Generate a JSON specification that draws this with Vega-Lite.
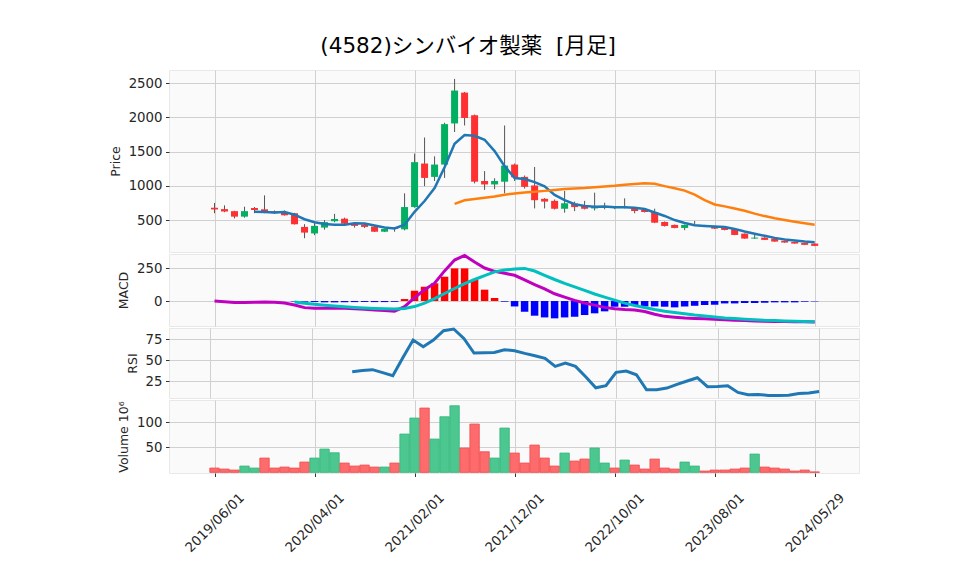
{
  "$schema": "https://vega.github.io/schema/vega-lite/v6.json",
  "background": "white",
  "padding": {"left": 108, "top": 36, "right": 5, "bottom": 5},
  "bounds": "flush",
  "title": {"text": "(4582)シンバイオ製薬\u00a0\u00a0[月足]", "font": "DejaVu Sans, Noto Sans CJK JP", "fontSize": 21.5, "fontWeight": "normal", "color": "#000000", "anchor": "middle", "offset": 12, "dx": -16},
  "datasets": {
    "d": [
      {"i":0,"o":680,"h":750,"l":600,"c":655,"ma5":null,"ma25":null,"macd":0,"sig":null,"hist":null,"rsi":null,"vol":8.7,"vd":"down"},
      {"i":1,"o":660,"h":715,"l":615,"c":625,"ma5":null,"ma25":null,"macd":-5,"sig":null,"hist":null,"rsi":null,"vol":6.7,"vd":"down"},
      {"i":2,"o":630,"h":635,"l":525,"c":550,"ma5":null,"ma25":null,"macd":-12,"sig":null,"hist":null,"rsi":null,"vol":4.7,"vd":"down"},
      {"i":3,"o":550,"h":695,"l":535,"c":630,"ma5":null,"ma25":null,"macd":-12,"sig":null,"hist":null,"rsi":null,"vol":12.7,"vd":"up"},
      {"i":4,"o":676,"h":690,"l":600,"c":647,"ma5":621,"ma25":null,"macd":-10,"sig":null,"hist":null,"rsi":null,"vol":8.7,"vd":"up"},
      {"i":5,"o":657,"h":860,"l":600,"c":632,"ma5":617,"ma25":null,"macd":-8,"sig":null,"hist":null,"rsi":null,"vol":28.7,"vd":"down"},
      {"i":6,"o":628,"h":640,"l":590,"c":600,"ma5":612,"ma25":null,"macd":-9,"sig":null,"hist":null,"rsi":null,"vol":8.7,"vd":"down"},
      {"i":7,"o":608,"h":640,"l":565,"c":570,"ma5":616,"ma25":null,"macd":-15,"sig":null,"hist":null,"rsi":null,"vol":10.7,"vd":"down"},
      {"i":8,"o":600,"h":605,"l":435,"c":440,"ma5":578,"ma25":null,"macd":-30,"sig":-7,"hist":-3,"rsi":null,"vol":8.7,"vd":"down"},
      {"i":9,"o":400,"h":440,"l":235,"c":317,"ma5":512,"ma25":null,"macd":-50,"sig":-16,"hist":-5,"rsi":null,"vol":20.7,"vd":"down"},
      {"i":10,"o":305,"h":455,"l":280,"c":415,"ma5":468,"ma25":null,"macd":-55,"sig":-25,"hist":-8,"rsi":null,"vol":28.7,"vd":"up"},
      {"i":11,"o":390,"h":500,"l":360,"c":470,"ma5":442,"ma25":null,"macd":-54,"sig":-32,"hist":-10,"rsi":null,"vol":46.7,"vd":"up"},
      {"i":12,"o":483,"h":590,"l":468,"c":516,"ma5":432,"ma25":null,"macd":-52,"sig":-38,"hist":-10,"rsi":null,"vol":39.3,"vd":"up"},
      {"i":13,"o":520,"h":535,"l":440,"c":448,"ma5":433,"ma25":null,"macd":-55,"sig":-44,"hist":-9,"rsi":null,"vol":18.7,"vd":"down"},
      {"i":14,"o":448,"h":455,"l":390,"c":415,"ma5":453,"ma25":null,"macd":-58,"sig":-49,"hist":-8,"rsi":36,"vol":12.7,"vd":"down"},
      {"i":15,"o":435,"h":445,"l":385,"c":400,"ma5":450,"ma25":null,"macd":-62,"sig":-53,"hist":-7,"rsi":37.5,"vol":14.7,"vd":"down"},
      {"i":16,"o":405,"h":410,"l":325,"c":330,"ma5":422,"ma25":null,"macd":-68,"sig":-56,"hist":-8,"rsi":38.5,"vol":10.7,"vd":"down"},
      {"i":17,"o":330,"h":375,"l":325,"c":370,"ma5":393,"ma25":null,"macd":-72,"sig":-59,"hist":-8,"rsi":35,"vol":10.7,"vd":"up"},
      {"i":18,"o":390,"h":395,"l":330,"c":370,"ma5":377,"ma25":null,"macd":-77,"sig":-61,"hist":-6,"rsi":31.3,"vol":18.7,"vd":"down"},
      {"i":19,"o":365,"h":890,"l":350,"c":690,"ma5":432,"ma25":null,"macd":-43,"sig":-57,"hist":15,"rsi":53,"vol":76.7,"vd":"up"},
      {"i":20,"o":690,"h":1470,"l":680,"c":1345,"ma5":621,"ma25":null,"macd":25,"sig":-42,"hist":78,"rsi":73.8,"vol":108.7,"vd":"up"},
      {"i":21,"o":1325,"h":1705,"l":995,"c":1115,"ma5":778,"ma25":null,"macd":86,"sig":-16,"hist":108,"rsi":65.8,"vol":128.7,"vd":"down"},
      {"i":22,"o":1130,"h":1430,"l":1070,"c":1310,"ma5":966,"ma25":null,"macd":135,"sig":18,"hist":134,"rsi":73.8,"vol":66.7,"vd":"up"},
      {"i":23,"o":1310,"h":1920,"l":1115,"c":1900,"ma5":1272,"ma25":null,"macd":228,"sig":57,"hist":184,"rsi":84.9,"vol":111.3,"vd":"up"},
      {"i":24,"o":1910,"h":2560,"l":1785,"c":2390,"ma5":1612,"ma25":736,"macd":310,"sig":95,"hist":247,"rsi":86.9,"vol":133.3,"vd":"up"},
      {"i":25,"o":2360,"h":2370,"l":1880,"c":1990,"ma5":1741,"ma25":789,"macd":345,"sig":132,"hist":247,"rsi":75.7,"vol":48.7,"vd":"down"},
      {"i":26,"o":2030,"h":2040,"l":1035,"c":1060,"ma5":1730,"ma25":807,"macd":295,"sig":163,"hist":159,"rsi":58.3,"vol":96.7,"vd":"down"},
      {"i":27,"o":1070,"h":1215,"l":940,"c":1020,"ma5":1672,"ma25":826,"macd":250,"sig":193,"hist":86,"rsi":58.6,"vol":41.3,"vd":"down"},
      {"i":28,"o":1020,"h":1110,"l":950,"c":1070,"ma5":1506,"ma25":843,"macd":225,"sig":221,"hist":23,"rsi":59,"vol":28.7,"vd":"up"},
      {"i":29,"o":1060,"h":1880,"l":890,"c":1295,"ma5":1287,"ma25":869,"macd":210,"sig":235,"hist":-5,"rsi":62.3,"vol":88.7,"vd":"up"},
      {"i":30,"o":1310,"h":1325,"l":1070,"c":1125,"ma5":1114,"ma25":889,"macd":195,"sig":242,"hist":-41,"rsi":61,"vol":38.7,"vd":"down"},
      {"i":31,"o":1130,"h":1150,"l":960,"c":985,"ma5":1099,"ma25":904,"macd":160,"sig":247,"hist":-81,"rsi":57.9,"vol":18.7,"vd":"down"},
      {"i":32,"o":1005,"h":1275,"l":670,"c":790,"ma5":1053,"ma25":913,"macd":125,"sig":227,"hist":-111,"rsi":55.1,"vol":54.7,"vd":"down"},
      {"i":33,"o":810,"h":820,"l":670,"c":770,"ma5":993,"ma25":926,"macd":92,"sig":195,"hist":-124,"rsi":52,"vol":28.7,"vd":"down"},
      {"i":34,"o":780,"h":800,"l":655,"c":665,"ma5":867,"ma25":940,"macd":55,"sig":163,"hist":-131,"rsi":42.4,"vol":12.7,"vd":"down"},
      {"i":35,"o":665,"h":925,"l":608,"c":745,"ma5":791,"ma25":953,"macd":30,"sig":133,"hist":-124,"rsi":46.4,"vol":38.7,"vd":"up"},
      {"i":36,"o":740,"h":770,"l":630,"c":690,"ma5":732,"ma25":962,"macd":5,"sig":107,"hist":-119,"rsi":42.4,"vol":22.7,"vd":"down"},
      {"i":37,"o":720,"h":780,"l":655,"c":665,"ma5":707,"ma25":968,"macd":-15,"sig":80,"hist":-106,"rsi":30.1,"vol":26.7,"vd":"down"},
      {"i":38,"o":670,"h":900,"l":640,"c":705,"ma5":694,"ma25":978,"macd":-31,"sig":53,"hist":-93,"rsi":17,"vol":48.7,"vd":"up"},
      {"i":39,"o":688,"h":753,"l":657,"c":692,"ma5":699,"ma25":990,"macd":-48,"sig":30,"hist":-78,"rsi":19.4,"vol":18.7,"vd":"up"},
      {"i":40,"o":695,"h":700,"l":660,"c":676,"ma5":686,"ma25":1000,"macd":-58,"sig":7,"hist":-43,"rsi":35.3,"vol":8.7,"vd":"down"},
      {"i":41,"o":690,"h":817,"l":670,"c":694,"ma5":686,"ma25":1015,"macd":-64,"sig":-16,"hist":-43,"rsi":36.9,"vol":24.7,"vd":"up"},
      {"i":42,"o":676,"h":680,"l":599,"c":632,"ma5":680,"ma25":1026,"macd":-68,"sig":-34,"hist":-36,"rsi":32.5,"vol":14.7,"vd":"down"},
      {"i":43,"o":647,"h":660,"l":610,"c":618,"ma5":662,"ma25":1036,"macd":-79,"sig":-49,"hist":-41,"rsi":14.6,"vol":6.7,"vd":"down"},
      {"i":44,"o":618,"h":666,"l":455,"c":462,"ma5":610,"ma25":1030,"macd":-100,"sig":-64,"hist":-41,"rsi":14.6,"vol":26.7,"vd":"down"},
      {"i":45,"o":472,"h":480,"l":405,"c":414,"ma5":560,"ma25":995,"macd":-116,"sig":-77,"hist":-43,"rsi":16.6,"vol":8.7,"vd":"down"},
      {"i":46,"o":429,"h":435,"l":380,"c":385,"ma5":500,"ma25":965,"macd":-122,"sig":-87,"hist":-48,"rsi":21,"vol":6.7,"vd":"down"},
      {"i":47,"o":385,"h":435,"l":352,"c":429,"ma5":458,"ma25":930,"macd":-128,"sig":-96,"hist":-41,"rsi":25,"vol":20.7,"vd":"up"},
      {"i":48,"o":428,"h":487,"l":415,"c":430,"ma5":424,"ma25":870,"macd":-132,"sig":-106,"hist":-36,"rsi":28.9,"vol":12.7,"vd":"up"},
      {"i":49,"o":425,"h":430,"l":405,"c":410,"ma5":414,"ma25":792,"macd":-135,"sig":-113,"hist":-30,"rsi":18.2,"vol":2.7,"vd":"down"},
      {"i":50,"o":404,"h":410,"l":370,"c":375,"ma5":406,"ma25":728,"macd":-138,"sig":-121,"hist":-28,"rsi":18.6,"vol":4.7,"vd":"down"},
      {"i":51,"o":390,"h":395,"l":350,"c":356,"ma5":400,"ma25":700,"macd":-142,"sig":-128,"hist":-18,"rsi":19.4,"vol":4.7,"vd":"down"},
      {"i":52,"o":366,"h":370,"l":280,"c":283,"ma5":371,"ma25":670,"macd":-145,"sig":-133,"hist":-18,"rsi":11.4,"vol":6.7,"vd":"down"},
      {"i":53,"o":302,"h":305,"l":228,"c":230,"ma5":332,"ma25":636,"macd":-148,"sig":-137,"hist":-15,"rsi":8.7,"vol":8.7,"vd":"down"},
      {"i":54,"o":230,"h":302,"l":225,"c":244,"ma5":300,"ma25":594,"macd":-151,"sig":-142,"hist":-15,"rsi":8.9,"vol":36.7,"vd":"up"},
      {"i":55,"o":244,"h":250,"l":208,"c":211,"ma5":270,"ma25":558,"macd":-153,"sig":-146,"hist":-13,"rsi":7.9,"vol":10.7,"vd":"down"},
      {"i":56,"o":230,"h":232,"l":183,"c":186,"ma5":240,"ma25":526,"macd":-154,"sig":-148,"hist":-10,"rsi":7.9,"vol":8.7,"vd":"down"},
      {"i":57,"o":196,"h":200,"l":168,"c":172,"ma5":218,"ma25":501,"macd":-155,"sig":-151,"hist":-10,"rsi":8.2,"vol":6.7,"vd":"down"},
      {"i":58,"o":182,"h":185,"l":155,"c":157,"ma5":202,"ma25":477,"macd":-156,"sig":-153,"hist":-10,"rsi":10.2,"vol":2.7,"vd":"down"},
      {"i":59,"o":167,"h":170,"l":135,"c":138,"ma5":188,"ma25":455,"macd":-157,"sig":-155,"hist":-5,"rsi":10.8,"vol":4.7,"vd":"down"},
      {"i":60,"o":157,"h":160,"l":120,"c":123,"ma5":178,"ma25":432,"macd":-158,"sig":-157,"hist":-3,"rsi":12.6,"vol":1,"vd":"down"}
    ]
  },
  "data": {"name": "d"},
  "spacing": 2,
  "vconcat": [
    {
      "width": 690, "height": 182,
      "encoding": {
        "x": {"field": "i", "type": "quantitative", "scale": {"domain": [-4.05, 63.93], "nice": false, "zero": false},
              "axis": {"values": [0,10,20,30,40,50,60], "labels": false, "ticks": false, "domain": false, "title": null, "grid": true, "minExtent": 0, "maxExtent": 0, "labelPadding": 0}}
      },
      "layer": [
        {"mark": {"type": "rule", "color": "#555555", "strokeWidth": 1},
         "encoding": {"y": {"field": "l", "type": "quantitative", "title": "Price", "scale": {"domain": [34, 2690], "nice": false, "zero": false},
                            "axis": {"values": [500,1000,1500,2000,2500], "format": "d", "grid": true, "titlePadding": 6}},
                      "y2": {"field": "h"}}},
        {"mark": {"type": "bar", "size": 7},
         "encoding": {"y": {"field": "o", "type": "quantitative", "title": "Price"},
                      "y2": {"field": "c"},
                      "color": {"condition": {"test": "datum.c >= datum.o", "value": "#00b060"}, "value": "#fe3032"}}},
        {"mark": {"type": "line", "color": "#1f77b4", "strokeWidth": 2.5},
         "encoding": {"y": {"field": "ma5", "type": "quantitative", "title": "Price"}}},
        {"mark": {"type": "line", "color": "#ff7f0e", "strokeWidth": 2.5},
         "encoding": {"y": {"field": "ma25", "type": "quantitative", "title": "Price"}}}
      ]
    },
    {
      "width": 690, "height": 72,
      "encoding": {
        "x": {"field": "i", "type": "quantitative", "scale": {"domain": [-4.05, 63.93], "nice": false, "zero": false},
              "axis": {"values": [0,10,20,30,40,50,60], "labels": false, "ticks": false, "domain": false, "title": null, "grid": true, "minExtent": 0, "maxExtent": 0, "labelPadding": 0}}
      },
      "layer": [
        {"mark": {"type": "bar", "size": 7.5},
         "encoding": {"y": {"field": "hist", "type": "quantitative", "title": "MACD", "scale": {"domain": [-189, 356], "nice": false, "zero": false},
                            "axis": {"values": [0, 250], "grid": true, "titlePadding": 6}},
                      "y2": {"datum": 0},
                      "color": {"condition": {"test": "datum.hist >= 0", "value": "#ff0000"}, "value": "#0000ff"}}},
        {"mark": {"type": "line", "color": "#bf00bf", "strokeWidth": 3},
         "encoding": {"y": {"field": "macd", "type": "quantitative", "title": "MACD"}}},
        {"mark": {"type": "line", "color": "#00bfbf", "strokeWidth": 3},
         "encoding": {"y": {"field": "sig", "type": "quantitative", "title": "MACD"}}}
      ]
    },
    {
      "width": 690, "height": 70,
      "encoding": {
        "x": {"field": "i", "type": "quantitative", "scale": {"domain": [-4.05, 63.93], "nice": false, "zero": false},
              "axis": {"values": [0,10,20,30,40,50,60], "labels": false, "ticks": false, "domain": false, "title": null, "grid": true, "minExtent": 0, "maxExtent": 0, "labelPadding": 0}}
      },
      "layer": [
        {"mark": {"type": "line", "color": "#1f77b4", "strokeWidth": 3},
         "encoding": {"y": {"field": "rsi", "type": "quantitative", "title": "RSI", "scale": {"domain": [4.8, 88.1], "nice": false, "zero": false},
                            "axis": {"values": [25, 50, 75], "grid": true, "titlePadding": 6}}}}
      ]
    },
    {
      "width": 690, "height": 73,
      "encoding": {
        "x": {"field": "i", "type": "quantitative", "scale": {"domain": [-4.05, 63.93], "nice": false, "zero": false},
              "axis": {"values": [0,10,20,30,40,50,60], "title": null, "grid": true, "domain": false, "ticks": true, "tickSize": 3.5,
                       "labelExpr": "['2019/06/01','2020/04/01','2021/02/01','2021/12/01','2022/10/01','2023/08/01','2024/05/29'][round(datum.value/10)]",
                       "labelAngle": -45, "labelAlign": "center", "labelBaseline": "middle", "labelPadding": 46,
                       "labelOverlap": false, "labelFlush": false, "labelBound": false}}
      },
      "layer": [
        {"mark": {"type": "bar", "size": 9.4, "strokeWidth": 0.8},
         "encoding": {"y": {"field": "vol", "type": "quantitative", "title": "Volume  10⁶", "scale": {"domain": [-1.2, 144.8], "nice": false, "zero": false},
                            "axis": {"values": [50, 100], "grid": true, "titlePadding": 6}},
                      "y2": {"datum": 0},
                      "color": {"condition": {"test": "datum.vd == 'up'", "value": "#4dc790"}, "value": "#fd6b6c"},
                      "stroke": {"condition": {"test": "datum.vd == 'up'", "value": "#2fb57a"}, "value": "#f04a4b"}}}
      ]
    }
  ],
  "config": {
    "font": "DejaVu Sans",
    "view": {"fill": "#fafafa", "stroke": "#e8e8e8"},
    "axis": {"gridColor": "#d0d0d0", "gridWidth": 1, "gridOpacity": 1, "domain": false, "tickColor": "#333333", "tickSize": 3.5,
             "labelFont": "DejaVu Sans", "labelFontSize": 13.3, "labelColor": "#262626", "labelPadding": 3.5,
             "titleFont": "DejaVu Sans", "titleFontSize": 12.5, "titleFontWeight": "normal", "titleColor": "#262626"},
    "axisY": {"labelFlush": false, "labelOverlap": false}
  }
}
